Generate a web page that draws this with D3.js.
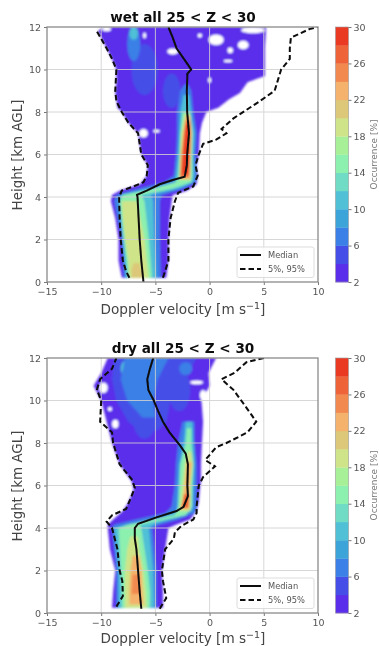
<!DOCTYPE html>
<html><head><meta charset="utf-8">
<script src="https://cdn.jsdelivr.net/npm/d3@7"></script>
<style>html,body{margin:0;padding:0;background:#fff}svg{display:block}text{font-family:"DejaVu Sans",sans-serif}</style>
</head><body><svg id="c" width="379" height="646"></svg>
<script>
const levels=[2,4,6,8,10,12,14,16,18,20,22,24,26,28];
const levelColors=["#5a2dea","#4450e8","#3a80e6","#3ea4da","#4fc0d6","#70dcc6","#8cf0ae","#a8f098","#cfe488","#dcc878","#f4b26c","#f28a50","#ee6438","#ea3a24"];
const cbTicks=[2,6,10,14,18,22,26,30];
const xTicks=[-15,-10,-5,0,5,10];
const yTicks=[0,2,4,6,8,10,12];

// [height, left velocity, right velocity]
const wet2=[[.2,-8.1,-4],[1,-8.4,-3.8],[2,-8.4,-3.8],[3,-8.7,-3.7],[3.8,-9.1,-3.5],[4.1,-9,-3.4],[4.3,-8.3,-2.1],[4.6,-6.4,-1.2],[5,-5.8,-1.1],[5.5,-5.7,-1.2],[6,-6.3,-1],[7,-6.6,-.9],[7.5,-7.5,-.7],[8,-8.1,-.3],[8.2,-8.5,.8],[8.6,-8.6,1.8],[8.9,-8.7,2.8],[9.4,-8.6,3.5],[9.7,-8.6,5.1],[10,-8.6,5.1],[10.5,-9,5.1],[11,-9.5,5.1],[11.8,-10.3,5.2],[12,-9.8,5.2]];
const wet6=[[.2,-7.9,-4.5],[2,-8.1,-4.6],[3.8,-8.8,-4.6],[4.1,-8.6,-4.4],[4.4,-6.5,-2.4],[4.7,-4.2,-1.3],[5,-3.3,-1.2],[6,-3.1,-1.3],[7,-3,-1.2],[8,-3,-1.5],[9,-2.7,-1.7],[9.3,-2.3,-2]];
const wet10=[[.2,-7.7,-4.9],[2,-8,-5.1],[3.8,-8.4,-5.2],[4.1,-8.2,-5.4],[4.4,-5.6,-2.9],[4.7,-3.3,-1.5],[5,-3.1,-1.4],[6,-2.9,-1.5],[7,-2.8,-1.4],[8,-2.7,-1.7],[8.8,-2.4,-1.9]];
const wet14=[[.2,-7.5,-5.3],[2,-7.9,-5.6],[3.8,-8.3,-6],[4.1,-8,-6.3],[4.4,-5.1,-3.4],[4.7,-3.1,-1.7],[5,-2.9,-1.6],[6,-2.8,-1.6],[7,-2.7,-1.6],[8,-2.5,-1.8]];
const wet18a=[[.2,-7.4,-5.6],[1,-7.5,-5.8],[2,-7.8,-6],[3,-8,-6.4],[3.8,-8.1,-6.7]];
const wet18b=[[4.8,-2.8,-1.75],[6,-2.7,-1.7],[7,-2.6,-1.6],[7.9,-2.3,-1.8]];
const wet22a=[[.2,-7.2,-6.1],[.6,-7.2,-6.3],[.9,-7,-6.5]];
const wet22b=[[4.85,-2.75,-1.8],[6,-2.65,-1.75],[7,-2.45,-1.7],[7.8,-2.2,-1.8]];
const wet26=[[4.95,-2.7,-1.9],[6,-2.55,-1.8],[7,-2.35,-1.75],[7.6,-2.2,-1.8]];
const wet28=[[5.1,-2.5,-1.95],[6,-2.4,-1.85],[7.4,-2.2,-1.8]];
const wetBands=[[2,wet2],[6,wet6],[10,wet10],[14,wet14],[18,wet18a],[18,wet18b],[20,wet22a],[22,wet22b],[26,wet26],[28,wet28]];
// [velocity, height, half width, half height, level]
const wetPatches=[[-6,10,1.2,1.2,4],[-3.5,9,.8,.8,4],[-7,11.2,.6,.8,6],[-7,11.7,.4,.3,10]];
const wetHoles=[[-3.4,10.85,.5,.14],[.6,11.4,.7,.25],[3.1,11.15,.5,.2],[4,11.85,1.1,.14],[1.9,10.9,.25,.13],[1.7,10.4,.4,.06],[0,9.5,.14,.12],[-6,11.6,.14,.14],[-6.1,7,.4,.2],[-4.9,7.1,.3,.07],[-9.5,11.9,.4,.1],[-.9,11.6,.2,.1]];
const wetMedian=[[0,-6.1],[1,-6.3],[2,-6.45],[3,-6.55],[4,-6.65],[4.1,-6.7],[4.3,-5.8],[4.6,-4.6],[4.8,-3.4],[4.95,-2.3],[5.5,-2.1],[6,-2.07],[7,-1.9],[8,-2.07],[9,-2.1],[9.8,-2.05],[10,-1.7],[10.3,-2.1],[11,-3.05],[11.5,-3.4],[12,-3.8]];
const wetP5=[[.2,-7.4],[.5,-7.7],[1,-8],[2,-8.2],[3,-8.3],[4,-8.35],[4.3,-8.1],[4.5,-7],[4.7,-6.1],[5,-5.8],[5.5,-5.7],[6,-6.3],[7,-6.6],[7.5,-7.5],[8,-8.1],[8.5,-8.6],[9,-8.7],[10,-8.6],[10.5,-9],[11,-9.5],[11.8,-10.4]];
const wetP95=[[.2,-4.3],[1,-3.8],[2,-3.8],[3,-3.6],[3.8,-3.2],[4.2,-2.9],[4.5,-1.5],[5,-1.1],[5.5,-1.3],[6,-1],[6.5,-.6],[6.7,.6],[7,1.55],[7.2,1.1],[7.7,2.2],[8.5,4.6],[9,6],[9.5,6.3],[10,6.6],[10.5,7.4],[11,7.4],[11.5,7.5],[11.9,9.2],[12,10]];

const dry2=[[.25,-9,-4.3],[1,-8.9,-4.3],[2,-8.7,-4.4],[3,-9.2,-4.1],[4,-9.4,-3.8],[4.15,-9.4,-3.1],[4.4,-8.9,-1.8],[4.8,-8,-1.2],[5.2,-7.5,-1],[5.8,-7,-.9],[6.2,-7.2,-.8],[7,-8.3,-.8],[8,-9,-.7],[9,-9.5,-.6],[10,-10,-.75],[10.7,-10.7,0],[11.3,-10,-.1],[12,-9.4,.6]];
const dry6a=[[.25,-8.6,-4.9],[1,-8.6,-4.9],[2,-8.6,-4.9],[3,-8.8,-5.1],[4,-9,-5.3],[4.15,-8.8,-4.7],[4.4,-6.8,-2.9],[4.7,-4.1,-1.4],[5,-3.5,-1.2],[6,-3.2,-1.2],[7,-3.1,-1.2],[8,-2.9,-1.4],[9,-2.5,-1.4]];
const dry4b=[[8.6,-6.5,-4.8],[9,-7.5,-4],[10,-8.6,-3.6],[11,-9,-2.4],[12,-8.8,-1.2]];
const dry6b=[[9.2,-6.2,-5],[10,-7.6,-5.2],[11,-8.2,-4.8],[12,-7.8,-3.8]];
const dry10=[[.25,-8.4,-5.1],[2,-8.4,-5.2],[3,-8.6,-5.4],[4,-8.8,-5.6],[4.2,-7,-5],[4.5,-4.5,-3],[4.8,-3,-1.6],[6,-2.9,-1.5],[7,-2.8,-1.4],[8,-2.4,-1.5],[9,-2.2,-1.6]];
const dry14=[[.25,-8.1,-5.5],[1,-8.1,-5.5],[2,-8.2,-5.7],[3,-8.3,-6],[4,-8.4,-6.3],[4.15,-7.6,-6.4],[4.6,-3.2,-2.2],[5,-2.9,-1.6],[6,-2.8,-1.6],[7,-2.7,-1.5],[8,-2.2,-1.7],[8.7,-2.1,-1.7]];
const dry18a=[[.25,-7.8,-5.8],[1,-7.8,-5.9],[2,-7.8,-6.1],[3,-7.6,-6.5],[3.6,-7.3,-6.6]];
const dry18b=[[4.8,-2.8,-1.8],[6,-2.5,-1.75],[7,-2.3,-1.55],[7.6,-2,-1.7]];
const dry22a=[[.4,-7.4,-6.1],[1,-7.4,-6.2],[2,-7.3,-6.3],[2.7,-7.1,-6.5]];
const dry22b=[[4.9,-2.65,-1.9],[5.5,-2.4,-1.8],[6,-2.3,-1.85],[7.1,-2.1,-1.65]];
const dry26a=[[.9,-7.2,-6.4],[1.8,-7.1,-6.5]];
const dry26b=[[4.95,-2.6,-1.95],[5.6,-2.35,-1.85]];
const dryBands=[[2,dry2],[4,dry4b],[6,dry6a],[6,dry6b],[10,dry10],[14,dry14],[18,dry18a],[18,dry18b],[22,dry22a],[22,dry22b],[24,dry26a],[26,dry26b]];
const dryPatches=[[-6,9,1,.8,4],[-2.8,10.5,1,1,4],[-2.2,11.5,.6,.3,6],[-7.3,10.9,.7,.6,10],[-7.6,11.5,.6,.4,10]];
const dryHoles=[[-1.2,10.85,.6,.09],[-.6,10.25,.3,.25],[-9.8,10.6,.4,.25],[-8.7,8.9,.3,.2],[-9.2,9.6,.2,.1]];
const dryMedian=[[.2,-6.3],[1,-6.45],[2,-6.6],[3,-6.75],[3.5,-6.9],[4,-6.9],[4.2,-6.6],[4.5,-4.9],[4.8,-3.05],[5,-2.4],[5.5,-2],[6,-2.05],[7,-2],[7.5,-2.2],[7.9,-2.75],[8.5,-3.7],[9,-4.3],[9.5,-4.75],[10,-5.15],[10.5,-5.65],[11,-5.75],[11.5,-5.5],[12,-5.2]];
const dryP5=[[.3,-8.6],[.8,-8],[1.5,-8.05],[2,-8.3],[3,-8.5],[4,-9],[4.3,-9.5],[4.6,-9],[4.9,-7.7],[5.5,-7.2],[5.9,-6.9],[6.3,-7.2],[7,-8.3],[8,-8.9],[8.5,-9],[9,-10.1],[10,-10],[10.5,-10.4],[11,-10.1],[11.5,-9],[12,-8.6]];
const dryP95=[[.2,-4.6],[.7,-4],[1.5,-4.3],[2,-4.4],[3,-4.1],[3.5,-3.3],[3.8,-3.2],[4.1,-2.6],[4.4,-1.5],[4.7,-1.2],[5,-1.2],[6,-1],[6.4,-.6],[6.9,.5],[7.2,-.4],[7.8,.6],[8,1.55],[8.5,3.5],[9,4.3],[9.3,3.9],[9.8,3.2],[10.5,2.2],[11,1.1],[11.3,2.3],[11.8,3.4],[12,5]];

const svg=d3.select("#c");
const defs=svg.append("defs");
defs.append("filter").attr("id","soft").attr("filterUnits","userSpaceOnUse").attr("x",0).attr("y",0).attr("width",379).attr("height",646)
  .append("feGaussianBlur").attr("stdDeviation",1.1);
defs.append("filter").attr("id","soft2").attr("filterUnits","userSpaceOnUse").attr("x",0).attr("y",0).attr("width",379).attr("height",646)
  .append("feGaussianBlur").attr("stdDeviation",0.4);
const colorOf=d3.scaleOrdinal(levels,levelColors);

function panel(cfg){
  const L=47,R=318,T=cfg.top,B=cfg.top+255;
  const x=d3.scaleLinear([-15,10],[L,R]);
  const y=d3.scaleLinear([0,12],[B,T]);
  const g=svg.append("g");
  const clipId="clip"+cfg.top;
  defs.append("clipPath").attr("id",clipId).append("rect").attr("x",L).attr("y",T).attr("width",R-L).attr("height",B-T);
  const heat=g.append("g").attr("clip-path",`url(#${clipId})`).append("g").attr("filter","url(#soft)");
  const area=d3.area().y(d=>y(d[0])).x0(d=>x(d[1])).x1(d=>x(d[2]));
  heat.selectAll(null).data(cfg.bands.filter(b=>b[0]<=2)).join("path").attr("d",b=>area(b[1])).attr("fill",b=>colorOf(b[0]));
  const ell=(sel,rows,fill)=>sel.selectAll(null).data(rows).join("ellipse")
    .attr("cx",d=>x(d[0])).attr("cy",d=>y(d[1])).attr("rx",d=>x(d[2])-x(0)).attr("ry",d=>y(0)-y(d[3]))
    .attr("fill",fill);
  ell(heat,cfg.holes,"#fff");
  heat.selectAll(null).data(cfg.bands.filter(b=>b[0]>2&&b[0]<=4)).join("path").attr("d",b=>area(b[1])).attr("fill",b=>colorOf(b[0]));
  ell(heat,cfg.patches,d=>colorOf(d[4]));
  heat.selectAll(null).data(cfg.bands.filter(b=>b[0]>4)).join("path").attr("d",b=>area(b[1])).attr("fill",b=>colorOf(b[0]));

  const soft=g.append("g").attr("filter","url(#soft2)");
  const grid=soft.append("g").attr("stroke","#d0d0d0").attr("stroke-width",1).attr("opacity",.85);
  grid.selectAll(null).data(xTicks.slice(1,-1)).join("line").attr("x1",x).attr("x2",x).attr("y1",T).attr("y2",B);
  grid.selectAll(null).data(yTicks.slice(1,-1)).join("line").attr("y1",y).attr("y2",y).attr("x1",L).attr("x2",R);

  const line=d3.line().x(d=>x(d[1])).y(d=>y(d[0]));
  const lines=soft.append("g").attr("clip-path",`url(#${clipId})`).attr("fill","none").attr("stroke","#0a0a0a");
  lines.append("path").attr("d",line(cfg.median)).attr("stroke-width",2);
  [cfg.p5,cfg.p95].forEach(p=>lines.append("path").attr("d",line(p)).attr("stroke-width",2).attr("stroke-dasharray","5.5 3"));

  const ax=soft.append("g").attr("transform",`translate(0,${B})`).call(d3.axisBottom(x).tickValues(xTicks).tickSize(3).tickPadding(3.5));
  const ay=soft.append("g").attr("transform",`translate(${L},0)`).call(d3.axisLeft(y).tickValues(yTicks).tickSize(3).tickPadding(3));
  [ax,ay].forEach(a=>{a.selectAll("text").attr("font-size",9.5).attr("fill","#555").attr("font-family","DejaVu Sans");
    a.selectAll("line").attr("stroke","#777");a.select(".domain").attr("stroke","none");});
  soft.append("rect").attr("x",L).attr("y",T).attr("width",R-L).attr("height",B-T).attr("fill","none").attr("stroke","#8a8a8a").attr("stroke-width",1.3);

  soft.append("text").attr("x",183).attr("y",T-5).attr("text-anchor","middle").attr("font-size",13.6).attr("font-weight","bold").attr("fill","#111").text(cfg.title);
  const xl=soft.append("text").attr("x",183).attr("y",B+cfg.xlabelGap).attr("text-anchor","middle").attr("font-size",13.6).attr("fill","#444").text("Doppler velocity [m s");
  xl.append("tspan").attr("dy",-5).attr("font-size",9.5).text("−1");
  xl.append("tspan").attr("dy",5).text("]");
  soft.append("text").attr("transform",`translate(22,${(T+B)/2+.5}) rotate(-90)`).attr("text-anchor","middle").attr("font-size",13.4).attr("fill","#444").text("Height [km AGL]");

  // legend
  const lg=soft.append("g").attr("transform",`translate(237,${B-35})`);
  lg.append("rect").attr("width",77).attr("height",30.5).attr("rx",2).attr("fill","#fff").attr("fill-opacity",.85).attr("stroke","#ddd");
  lg.append("line").attr("x1",3).attr("x2",24).attr("y1",8).attr("y2",8).attr("stroke","#111").attr("stroke-width",2);
  lg.append("line").attr("x1",3).attr("x2",24).attr("y1",22).attr("y2",22).attr("stroke","#111").attr("stroke-width",2).attr("stroke-dasharray","5.5 3");
  lg.append("text").attr("x",31).attr("y",11).attr("font-size",8.3).attr("fill","#555").text("Median");
  lg.append("text").attr("x",31).attr("y",25).attr("font-size",8.3).attr("fill","#555").text("5%, 95%");

  // colorbar
  const c=d3.scaleLinear([2,30],[B,T]);
  const cb=soft.append("g");
  cb.selectAll("rect").data(levels).join("rect").attr("x",335.5).attr("width",13)
    .attr("y",d=>c(d+2)).attr("height",d=>c(d)-c(d+2)+.3).attr("fill",d=>colorOf(d));
  cb.append("rect").attr("x",335.5).attr("y",T).attr("width",13).attr("height",B-T).attr("fill","none").attr("stroke","#999").attr("stroke-width",.6);
  const ac=soft.append("g").attr("transform","translate(348.5,0)").call(d3.axisRight(c).tickValues(cbTicks).tickFormat(d3.format("d")).tickSize(3).tickPadding(2));
  ac.selectAll("text").attr("font-size",9.5).attr("fill","#555").attr("font-family","DejaVu Sans");
  ac.selectAll("line").attr("stroke","#777");ac.select(".domain").attr("stroke","none");
  soft.append("text").attr("transform",`translate(377,${T+127.5}) rotate(-90)`).attr("text-anchor","middle").attr("font-size",9).attr("fill","#777").text("Occurrence [%]");
}

panel({top:27,xlabelGap:32,title:"wet all 25 < Z < 30",bands:wetBands,patches:wetPatches,holes:wetHoles,median:wetMedian,p5:wetP5,p95:wetP95});
panel({top:358,xlabelGap:29.5,title:"dry all 25 < Z < 30",bands:dryBands,patches:dryPatches,holes:dryHoles,median:dryMedian,p5:dryP5,p95:dryP95});
</script></body></html>
